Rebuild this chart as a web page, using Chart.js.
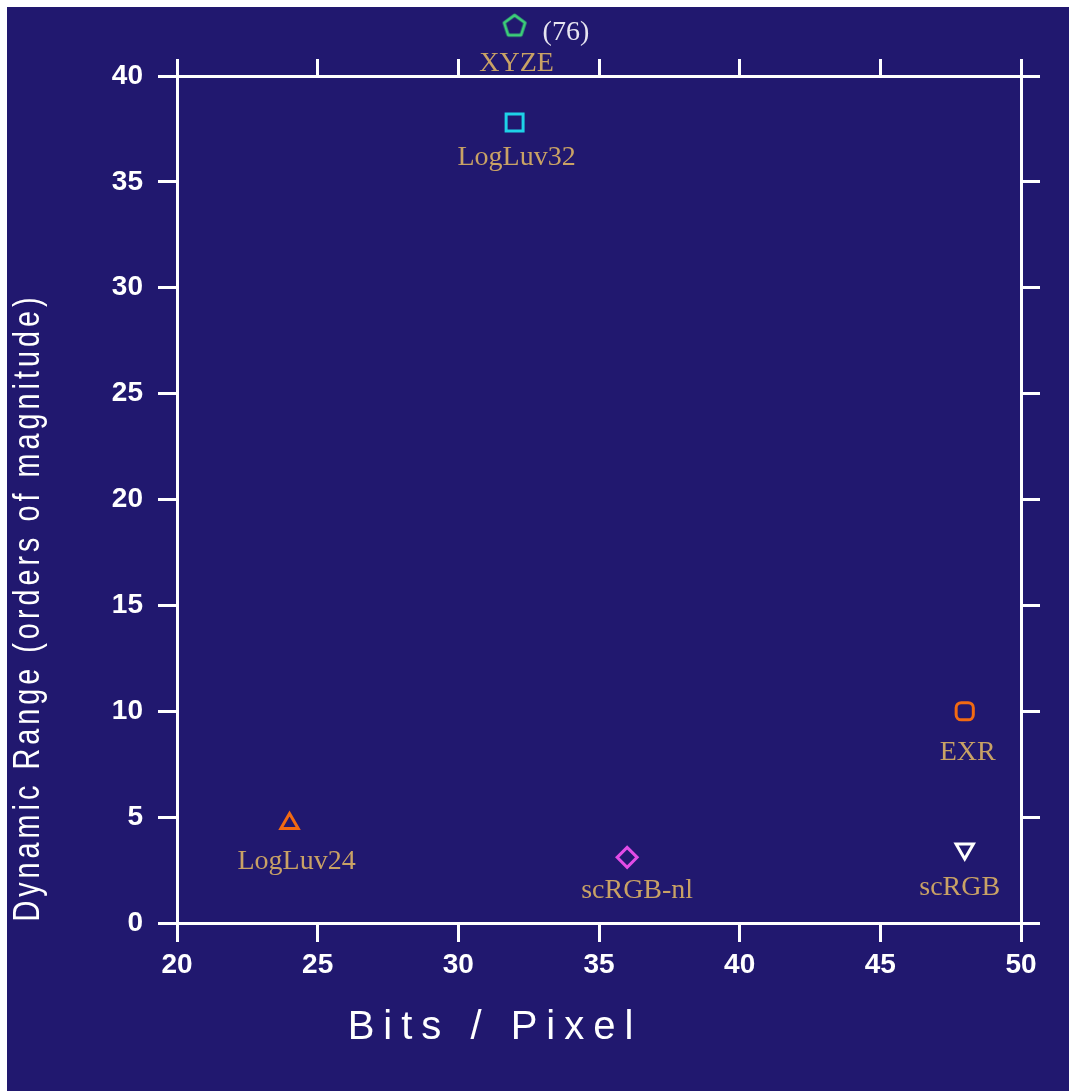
<!DOCTYPE html>
<html>
<head>
<meta charset="utf-8">
<script src="https://cdn.jsdelivr.net/npm/chart.js@4.4.1/dist/chart.umd.min.js"></script>
<style>
  html, body { margin: 0; padding: 0; background: #fff; }
  #wrap { position: absolute; left: 7px; top: 7px; width: 1062px; height: 1084px; background: #21186f; }
</style>
</head>
<body>
<div id="wrap"><canvas id="myChart" width="1062" height="1084"></canvas></div>
<script>
var ctx = document.getElementById('myChart').getContext('2d');

// HDR encodings: bits per pixel vs dynamic range
const formats = ['XYZE', 'LogLuv32', 'LogLuv24', 'scRGB-nl', 'EXR', 'scRGB'];
const bitsPerPixel = [32, 32, 24, 36, 48, 48];
// orders of magnitude as plotted (XYZE is really 76, drawn just above the top)
const dynamicRange = [42.4, 37.8, 4.7, 3.1, 10, 3.5];
const notes = ['(76)', '', '', '', '', ''];
const xTicks = [20, 25, 30, 35, 40, 45, 50];
const yTicks = [0, 5, 10, 15, 20, 25, 30, 35, 40];

// marker look
const markerColors = ['#3ccf78', '#1ed2e8', '#f26a12', '#e24ce6', '#f26a12', '#ffffff'];
const labelDx = [2, 2, 7, 10, 3, -5];
const labelDy = [38, 35, 38, 33, 41, 39];

function pentagon(r, color) {
  const c = document.createElement('canvas');
  c.width = c.height = 2 * r + 8;
  const g = c.getContext('2d');
  g.strokeStyle = color;
  g.lineWidth = 3;
  g.lineJoin = 'round';
  g.beginPath();
  for (let i = 0; i < 5; i++) {
    const a = -Math.PI / 2 + i * 2 * Math.PI / 5;
    g.lineTo(c.width / 2 + r * Math.cos(a), c.height / 2 + 1 + r * Math.sin(a));
  }
  g.closePath();
  g.stroke();
  return c;
}

const pointStyles = [pentagon(11, markerColors[0]), 'rect', 'triangle', 'rectRot', 'rectRounded', 'triangle'];
const pointRadii = [11, 12, 10, 10, 10, 10];
const pointRotations = [0, 0, 0, 0, 0, 180];

// names under the markers, plus the off-scale note
const pointLabels = {
  id: 'pointLabels',
  afterDatasetsDraw(chart) {
    const c = chart.ctx;
    const meta = chart.getDatasetMeta(0);
    const a = chart.chartArea;
    const wide = { left: -1e4, top: -1e4, right: 1e4, bottom: 1e4 };
    // points above the frame are skipped by the element, draw them anyway
    meta.data.forEach(function(pt) {
      if (pt.y < a.top || pt.y > a.bottom) pt.draw(c, wide);
    });
    c.save();
    c.font = '28px "Liberation Serif", "Times New Roman", serif';
    c.textBaseline = 'middle';
    meta.data.forEach(function(pt, i) {
      c.textAlign = 'center';
      c.fillStyle = '#c9a265';
      c.fillText(formats[i], pt.x + labelDx[i], pt.y + labelDy[i]);
      if (notes[i]) {
        c.textAlign = 'left';
        c.fillStyle = '#e6e4f0';
        c.fillText(notes[i], pt.x + 28, pt.y + 7);
      }
    });
    c.restore();
  }
};

// spaced-out axis titles, and they sit off-centre in the original
const titleTweak = {
  id: 'titleTweak',
  beforeDraw(chart) {
    const tw = {
      x: { ls: '9px', dx: -104, dy: 0, k: 1 },
      y: { ls: '5px', dx: 0, dy: 108, k: 0.8 }
    };
    Object.values(chart.scales).forEach(function(s) {
      const t = tw[s.id];
      if (!t || s._tweaked) return;
      const orig = s.drawTitle;
      s.drawTitle = function() {
        const c = this.ctx;
        const c0 = (this.top + this.bottom) / 2;
        c.save();
        c.letterSpacing = t.ls;
        c.translate(t.dx, t.dy);
        c.translate(0, c0);
        c.scale(1, t.k);
        c.translate(0, -c0);
        orig.call(this);
        c.restore();
      };
      s._tweaked = true;
    });
  }
};

const white = '#ffffff';
const tickFont = { family: '"Liberation Sans", Arial, sans-serif', size: 28, weight: 'bold' };

function grid(len) {
  return { drawOnChartArea: false, drawTicks: true, tickLength: len, color: white, lineWidth: 3 };
}
const border = { display: true, color: white, width: 3 };

var chart = new Chart(ctx, {
  type: 'scatter',
  data: {
    datasets: [{
      label: 'HDR formats',
      data: bitsPerPixel.map(function(b, i) { return { x: b, y: dynamicRange[i] }; }),
      pointStyle: pointStyles,
      pointRadius: pointRadii,
      pointRotation: pointRotations,
      pointBorderColor: markerColors,
      pointBackgroundColor: 'rgba(0,0,0,0)',
      pointBorderWidth: 3,
      clip: false
    }]
  },
  options: {
    responsive: false,
    animation: false,
    events: [],
    layout: { padding: 0, autoPadding: false },
    plugins: { legend: { display: false }, tooltip: { enabled: false } },
    scales: {
      x: {
        type: 'linear', position: 'bottom', min: 20, max: 50,
        afterBuildTicks: function(s) { s.ticks = xTicks.map(function(v) { return { value: v }; }); },
        afterFit: function(s) { s.height = 168; },
        grid: grid(19), border: border,
        ticks: { color: white, font: tickFont, padding: 6, maxRotation: 0 },
        title: {
          display: true, text: 'Bits / Pixel', color: white,
          font: { family: '"Liberation Sans", Arial, sans-serif', size: 40 },
          padding: { top: 0, bottom: 39 }
        }
      },
      x2: {
        type: 'linear', axis: 'x', position: 'top', min: 20, max: 50,
        afterBuildTicks: function(s) { s.ticks = xTicks.map(function(v) { return { value: v }; }); },
        afterFit: function(s) { s.height = 69; },
        grid: grid(17), border: border,
        ticks: { display: false }
      },
      y: {
        type: 'linear', position: 'left', min: 0, max: 40,
        afterBuildTicks: function(s) { s.ticks = yTicks.map(function(v) { return { value: v }; }); },
        afterFit: function(s) { s.width = 170; },
        grid: grid(19), border: border,
        ticks: { color: white, font: tickFont, padding: 15 },
        title: {
          display: true, text: 'Dynamic Range (orders of magnitude)', color: white,
          font: { family: '"Liberation Sans", Arial, sans-serif', size: 36 },
          padding: { top: 0, bottom: 0 }
        }
      },
      y2: {
        type: 'linear', axis: 'y', position: 'right', min: 0, max: 40,
        afterBuildTicks: function(s) { s.ticks = yTicks.map(function(v) { return { value: v }; }); },
        afterFit: function(s) { s.width = 48; },
        grid: grid(19), border: border,
        ticks: { display: false }
      }
    }
  },
  plugins: [pointLabels, titleTweak]
});
</script>
</body>
</html>
